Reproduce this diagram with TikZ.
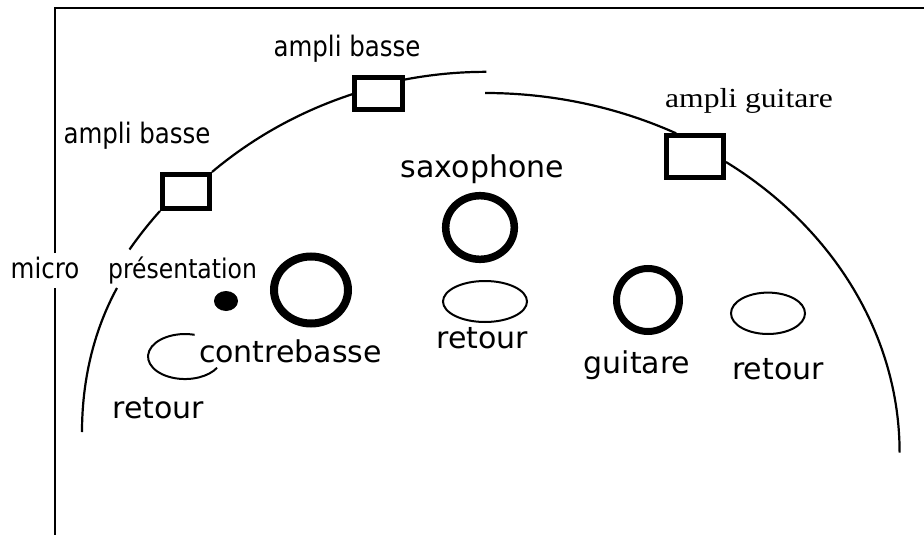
\documentclass[tikz,border=0pt]{standalone}
\usepackage{fontspec}
\usepackage{graphicx}
\setmainfont{DejaVu Sans}
\newfontfamily\serifface{Liberation Serif}
\newcommand\tallish[1]{\scalebox{1}[1.15]{#1}}
\pgfdeclarelayer{bg}
\pgfsetlayers{bg,main}
\begin{document}
\begin{tikzpicture}[x=1pt,y=-1pt,
  lbl/.style={inner sep=0pt, anchor=base, font=\fontsize{24.5}{29}\selectfont},
  big/.style={inner sep=0pt, anchor=base, font=\fontsize{30}{36}\selectfont},
  amp/.style={draw, line width=5pt, fill=white, inner sep=0pt},
  stage/.style={line width=2.2pt},
  frameline/.style={line width=2.2pt},
  ring/.style={line width=7.5pt},
  monitor/.style={line width=2pt}]
\begin{pgfonlayer}{bg}
\fill[white] (0,0) rectangle (924,535);
\end{pgfonlayer}
\useasboundingbox (0,0) rectangle (924,535);

% frame
\draw[frameline] (55,535) -- (55,288);
\draw[frameline] (55,253) -- (55,8) -- (924,8);

% amplifiers
\node[amp, minimum width=47pt, minimum height=34pt] (b1) at (186,191.5) {};
\node[amp, minimum width=48pt, minimum height=32pt] (b2) at (378.5,93.5) {};
\node[amp, minimum width=57pt, minimum height=42pt] (b3) at (695,156.5) {};

% stage edge
\coordinate (a0) at (82,432);
\coordinate (a1) at (117,288);
\coordinate (e0) at (485,93);
\begin{pgfonlayer}{bg}
\draw[stage] (a1) .. controls +(-24,44) and +(0,-50) .. (a0);
\draw[stage] (b1.south west) arc[start angle=220.5, end angle=213.5, x radius=415, y radius=395];
\draw[stage] (b1.north east) arc[start angle=228.5, end angle=252.5, x radius=415, y radius=395];
\draw[stage] ([yshift=-4.5pt]b2.north east) arc[start angle=258.7, end angle=270, x radius=415, y radius=395];
\draw[stage] (e0) arc[start angle=270, end angle=297.5, x radius=414, y radius=357];
\draw[stage] ([yshift=-5.5pt]b3.east) arc[start angle=305.5, end angle=360, x radius=414, y radius=357];
\end{pgfonlayer}

% instruments
\draw[ring, line width=8pt] (311,290) ellipse [x radius=37, y radius=33.5];
\draw[ring] (480,227.5) ellipse [x radius=34.3, y radius=31.8];
\draw[ring, line width=7pt] (648,300) ellipse [x radius=31.5, y radius=31.5];
\fill (226,301) ellipse [x radius=12, y radius=10];

% monitors
\draw[monitor] (485,301.5) ellipse [x radius=42, y radius=20.5];
\draw[monitor] (768,313.3) ellipse [x radius=37, y radius=20.7];
\draw[monitor] (194.6,334.8) arc[start angle=285, end angle=30, x radius=37, y radius=22.5];

% labels
\node[lbl] (tab1) at (347,57) {\tallish{ampli basse}};
\node[lbl] (tab2) at (137,143) {\tallish{ampli basse}};
\node[inner sep=0pt, anchor=base, font=\serifface\fontsize{27.5}{33}\selectfont] (tag) at (749,107.3) {\scalebox{1.15}[1]{ampli guitare}};
\node[big] (tsax) at (482.5,177.7) {saxophone};
\node[lbl] (tmic) at (45,278.3) {\tallish{micro}};
\node[lbl, font=\fontsize{23.5}{28}\selectfont] (tpres) at (182.5,278.3) {\tallish{présentation}};
\node[big] (tcb) at (290.5,362.7) {contrebasse};
\node[big] (tr1) at (158.5,418) {retour};
\node[big] (tr2) at (482.5,348) {retour};
\node[big] (tgt) at (637,373) {guitare};
\node[big] (tr3) at (778,379) {retour};
\end{tikzpicture}
\end{document}
